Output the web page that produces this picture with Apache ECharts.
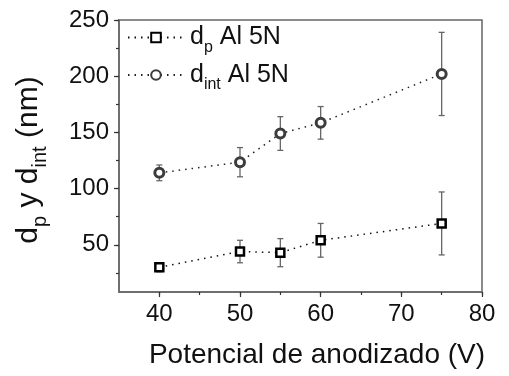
<!DOCTYPE html>
<html>
<head>
<meta charset="utf-8">
<script src="https://cdn.jsdelivr.net/npm/echarts@6/dist/echarts.min.js"></script>
<style>
  html, body { margin: 0; padding: 0; background: #fff; }
  #chart { width: 509px; height: 376px; }
</style>
</head>
<body>
<div id="chart"></div>
<script>
// datos
const voltages = [40, 50, 55, 60, 75];
const dpValues = [30, 44, 43, 54, 69];
const dpErrors = [4, 10, 12.5, 15, 28];
const dintValues = [114, 123.5, 149, 158.5, 202];
const dintErrors = [7, 13, 15, 14.5, 37];

const xLabelTicks = [40, 50, 60, 70, 80];
const xMinorTicks = [40, 45, 50, 55, 60, 65, 70, 75, 80];
const yLabelTicks = [50, 100, 150, 200, 250];
const yMinorTicks = [25, 50, 75, 100, 125, 150, 175, 200, 225, 250];

const FONT = "'Liberation Sans', Arial, sans-serif";
const AXIS_COLOR = "#666";

function errorData(values, errors) {
  return voltages.map((v, i) => [v, values[i] - errors[i], values[i] + errors[i]]);
}

// barras de error: línea vertical con tapas
function renderErrorBar(params, api) {
  const x = api.value(0);
  const lo = api.coord([x, api.value(1)]);
  const hi = api.coord([x, api.value(2)]);
  const cap = 3;
  const style = { stroke: "#666", lineWidth: 1.3 };
  return {
    type: "group",
    children: [
      { type: "line", shape: { x1: lo[0], y1: lo[1], x2: hi[0], y2: hi[1] }, style: style },
      { type: "line", shape: { x1: hi[0] - cap, y1: hi[1], x2: hi[0] + cap, y2: hi[1] }, style: style },
      { type: "line", shape: { x1: lo[0] - cap, y1: lo[1], x2: lo[0] + cap, y2: lo[1] }, style: style },
    ],
  };
}

const gridBox = { left: 119, right: 27, top: 20, bottom: 84 };

const chart = echarts.init(document.getElementById("chart"));

const legendNames = {
  "dp Al 5N": "{n|d}{s|p}{n| Al 5N}",
  "dint Al 5N": "{n|d}{s|int}{n| Al 5N}",
};

chart.setOption({
  animation: false,
  grid: [
    Object.assign({ show: true, borderColor: AXIS_COLOR, borderWidth: 1.5, backgroundColor: "transparent" }, gridBox),
    Object.assign({}, gridBox),
  ],
  xAxis: [
    {
      type: "value", gridIndex: 0, min: 35, max: 80,
      axisLine: { show: true, lineStyle: { color: AXIS_COLOR, width: 1.5 } },
      axisTick: { show: true, customValues: xMinorTicks, length: 3, lineStyle: { color: "#333", width: 1.2 } },
      axisLabel: { customValues: xLabelTicks, fontSize: 24, fontFamily: FONT, color: "#111", margin: 10 },
      splitLine: { show: false },
    },
    {
      type: "value", gridIndex: 1, min: 35, max: 80,
      axisLine: { show: false },
      axisTick: { show: true, customValues: xLabelTicks, length: 5, lineStyle: { color: "#333", width: 1.2 } },
      axisLabel: { show: false },
      splitLine: { show: false },
    },
  ],
  yAxis: [
    {
      type: "value", gridIndex: 0, min: 8, max: 250,
      axisLine: { show: true, lineStyle: { color: AXIS_COLOR, width: 1.5 } },
      axisTick: { show: true, customValues: yMinorTicks, length: 3, lineStyle: { color: "#333", width: 1.2 } },
      axisLabel: { customValues: yLabelTicks, fontSize: 24, fontFamily: FONT, color: "#111", margin: 10 },
      splitLine: { show: false },
    },
    {
      type: "value", gridIndex: 1, min: 8, max: 250,
      axisLine: { show: false },
      axisTick: { show: true, customValues: yLabelTicks, length: 5, lineStyle: { color: "#333", width: 1.2 } },
      axisLabel: { show: false },
      splitLine: { show: false },
    },
  ],
  legend: {
    data: ["dp Al 5N", "dint Al 5N"],
    orient: "vertical",
    left: 122,
    top: 20,
    itemWidth: 56,
    itemHeight: 12,
    itemGap: 7,
    formatter: function (name) {
      return legendNames[name];
    },
    textStyle: {
      padding: [0, 0, 0, 1],
      rich: {
        n: { fontSize: 25, fontFamily: FONT, color: "#111", lineHeight: 36 },
        s: { fontSize: 16, fontFamily: FONT, color: "#111", lineHeight: 10, verticalAlign: "bottom" },
      },
    },
  },
  graphic: [
    {
      type: "text", x: 317, y: 355,
      style: { text: "Potencial de anodizado (V)", fontSize: 28, fontFamily: FONT, fill: "#111", align: "center", verticalAlign: "middle" },
    },
    {
      type: "text", x: 29, y: 160, rotation: Math.PI / 2,
      style: {
        text: "{n|d}{s|p}{n| y d}{s|int}{n| (nm)}",
        align: "center", verticalAlign: "middle",
        rich: {
          n: { fontSize: 30, fontFamily: FONT, fill: "#111", lineHeight: 42 },
          s: { fontSize: 20, fontFamily: FONT, fill: "#111", lineHeight: 12, verticalAlign: "bottom" },
        },
      },
    },
  ],
  series: [
    {
      type: "custom", name: "err dp", xAxisIndex: 0, yAxisIndex: 0,
      renderItem: renderErrorBar, data: errorData(dpValues, dpErrors), z: 1, silent: true,
    },
    {
      type: "custom", name: "err dint", xAxisIndex: 0, yAxisIndex: 0,
      renderItem: renderErrorBar, data: errorData(dintValues, dintErrors), z: 1, silent: true,
    },
    {
      name: "dp Al 5N", type: "line", xAxisIndex: 0, yAxisIndex: 0, z: 3,
      data: voltages.map((v, i) => [v, dpValues[i]]),
      symbol: "rect", symbolSize: 8,
      lineStyle: { color: "#111", width: 1.5, type: [1.5, 5] },
      itemStyle: { color: "#fff", borderColor: "#000", borderWidth: 2.5 },
    },
    {
      name: "dint Al 5N", type: "line", xAxisIndex: 0, yAxisIndex: 0, z: 3,
      data: voltages.map((v, i) => [v, dintValues[i]]),
      symbol: "circle", symbolSize: 9,
      lineStyle: { color: "#222", width: 1.5, type: [1.5, 5] },
      itemStyle: { color: "#fff", borderColor: "#3c3c3c", borderWidth: 3 },
    },
  ],
});
</script>
</body>
</html>
